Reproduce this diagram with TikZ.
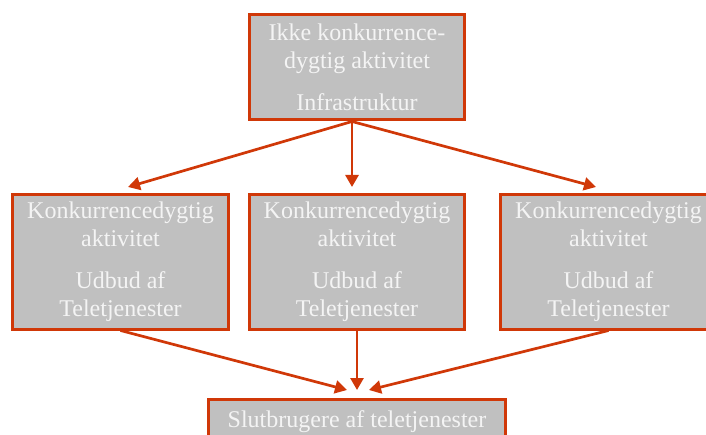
\documentclass[tikz,border=0pt]{standalone}
\usepackage{fontspec}
\setmainfont{Liberation Serif}
\usetikzlibrary{arrows.meta}
\definecolor{rust}{RGB}{208,56,8}
\definecolor{boxgrey}{RGB}{192,192,192}
\definecolor{paletext}{RGB}{244,244,244}
\begin{document}
\begin{tikzpicture}[
    x=1pt, y=1pt,
    box/.style={draw=rust, line width=3pt, fill=boxgrey, text=paletext, align=center,
                font=\fontsize{24}{28}\selectfont, inner sep=0pt},
    link/.style={draw=rust, line width=2.7pt, -{Triangle[length=12pt,width=13pt]}},
]
  \useasboundingbox (0,0) rectangle (706,-435);

  \node [box, minimum width=215pt, minimum height=105pt] (infra) at (357,-67.5)
        {Ikke konkurrence-\\dygtig aktivitet\\[14pt]Infrastruktur};
  \node [box, minimum width=216pt, minimum height=134pt] (tele1) at (120.5,-262)
        {Konkurrencedygtig\\aktivitet\\[14pt]Udbud af\\Teletjenester};
  \node [box, minimum width=215pt, minimum height=134pt] (tele2) at (357,-262)
        {Konkurrencedygtig\\aktivitet\\[14pt]Udbud af\\Teletjenester};
  \node [box, minimum width=216pt, minimum height=134pt] (tele3) at (608.5,-262)
        {Konkurrencedygtig\\aktivitet\\[14pt]Udbud af\\Teletjenester};
  \node [box, minimum width=297pt, minimum height=46pt] (users) at (357,-422)
        {Slutbrugere af teletjenester};

  % arrow ends
  \coordinate (fork) at ([xshift=-5pt]infra.south);
  \coordinate (in1)  at (128,-187);
  \coordinate (in2)  at (352,-187);
  \coordinate (in3)  at (596,-187);
  \coordinate (out1) at (347,-390);
  \coordinate (out2) at (357,-390);
  \coordinate (out3) at (369,-390);

  \draw [link] (fork) -- (in1);
  \draw [link] (fork) -- (in2);
  \draw [link] (fork) -- (in3);
  \draw [link] (tele1.south) -- (out1);
  \draw [link] (tele2.south) -- (out2);
  \draw [link] (tele3.south) -- (out3);
\end{tikzpicture}
\end{document}
